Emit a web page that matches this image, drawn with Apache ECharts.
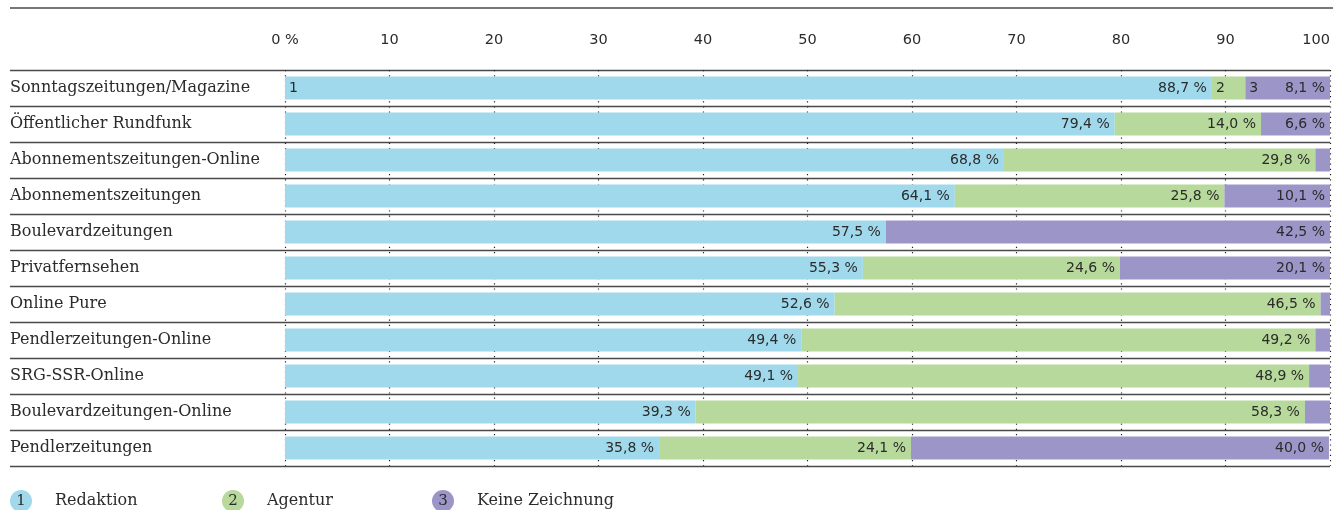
<!DOCTYPE html>
<html>
<head>
<meta charset="utf-8">
<script src="https://cdn.jsdelivr.net/npm/echarts@6/dist/echarts.min.js"></script>
<style>
  html, body { margin: 0; padding: 0; background: #fff; }
  #chart { width: 1333px; height: 510px; }
</style>
</head>
<body>
<div id="chart"></div>
<script>
const categories = [
  'Sonntagszeitungen/Magazine', 'Öffentlicher Rundfunk', 'Abonnementszeitungen-Online',
  'Abonnementszeitungen', 'Boulevardzeitungen', 'Privatfernsehen', 'Online Pure',
  'Pendlerzeitungen-Online', 'SRG-SSR-Online', 'Boulevardzeitungen-Online', 'Pendlerzeitungen'
]
const redaktion = [88.7, 79.4, 68.8, 64.1, 57.5, 55.3, 52.6, 49.4, 49.1, 39.3, 35.8]
const agentur = [3.2, 14.0, 29.8, 25.8, 0, 24.6, 46.5, 49.2, 48.9, 58.3, 24.1]
const keineZeichnung = [8.1, 6.6, 1.4, 10.1, 42.5, 20.1, 0.9, 1.4, 2.0, 2.4, 40.0]
const seriesNames = ['Redaktion', 'Agentur', 'Keine Zeichnung']
const seriesColors = ['#a0d9ec', '#b7d99b', '#9c95c8']
const xTicks = [0, 10, 20, 30, 40, 50, 60, 70, 80, 90, 100]

const serif = 'DejaVu Serif'
const sans = 'DejaVu Sans'
const dark = '#2b2b2b'
const rule = '#4a4a4a'

const fmtPct = v => v.toFixed(1).replace('.', ',') + ' %'

const chart = echarts.init(document.getElementById('chart'))

const valueSeries = [redaktion, agentur, keineZeichnung].map((data, i) => ({
  name: seriesNames[i],
  type: 'bar',
  stack: 'share',
  barWidth: 23,
  barGap: '-100%',
  itemStyle: { color: seriesColors[i] },
  label: {
    show: true,
    position: 'insideRight',
    distance: 5,
    color: dark,
    fontFamily: sans,
    fontSize: 14,
    formatter: p => (p.value >= 5 ? fmtPct(p.value) : '')
  },
  data
}))

// numbered markers "1", "2", "3" in the first row
const indexSeries = [redaktion, agentur, keineZeichnung].map((data, i) => ({
  name: 'idx' + (i + 1),
  type: 'bar',
  stack: 'idx',
  barWidth: 23,
  barGap: '-100%',
  silent: true,
  z: 3,
  itemStyle: { color: 'transparent' },
  label: {
    show: true,
    position: 'insideLeft',
    distance: 4,
    color: dark,
    fontFamily: sans,
    fontSize: 14,
    formatter: p => (p.dataIndex === 0 ? String(i + 1) : '')
  },
  data
}))

const legendLeft = [5, 217, 427]
const legends = seriesNames.map((name, i) => ({
  data: [name],
  left: legendLeft[i],
  top: 490,
  padding: 0,
  itemWidth: 0,
  itemHeight: 0,
  selectedMode: false,
  formatter: n => `{n|${i + 1}}{t|${n}}`,
  textStyle: {
    rich: {
      n: {
        width: 22, height: 22, lineHeight: 22, align: 'center',
        borderRadius: 11, backgroundColor: seriesColors[i],
        color: dark, fontFamily: serif, fontSize: 15
      },
      t: { color: dark, fontFamily: serif, fontSize: 16, padding: [0, 0, 0, 23] }
    }
  }
}))

chart.setOption({
  animation: false,
  grid: { left: 285, right: 3, top: 70, bottom: 44, outerBoundsMode: 'none' },
  legend: legends,
  xAxis: {
    type: 'value',
    position: 'top',
    min: 0,
    max: 100,
    interval: 10,
    axisLine: { show: false },
    axisTick: { show: false },
    axisLabel: {
      margin: 22,
      color: dark,
      fontFamily: sans,
      fontSize: 14.5,
      alignMaxLabel: 'right',
      formatter: v => (xTicks.includes(v) ? (v === 0 ? '0 %' : String(v)) : '')
    },
    splitLine: { show: true, lineStyle: { color: '#222', width: 1.2, type: [1.2, 4] } }
  },
  yAxis: {
    type: 'category',
    inverse: true,
    data: categories,
    axisLine: { show: false },
    axisTick: { show: true, length: 275, interval: 0, lineStyle: { color: rule, width: 1.3 } },
    axisLabel: {
      interval: 0,
      align: 'left',
      margin: 275,
      color: dark,
      fontFamily: serif,
      fontSize: 16
    },
    splitLine: { show: true, interval: 0, lineStyle: { color: rule, width: 1.3 } }
  },
  graphic: [{
    type: 'line',
    shape: { x1: 10, y1: 8, x2: 1333, y2: 8 },
    style: { stroke: rule, lineWidth: 1.3 }
  }],
  series: valueSeries.concat(indexSeries)
})
</script>
</body>
</html>
